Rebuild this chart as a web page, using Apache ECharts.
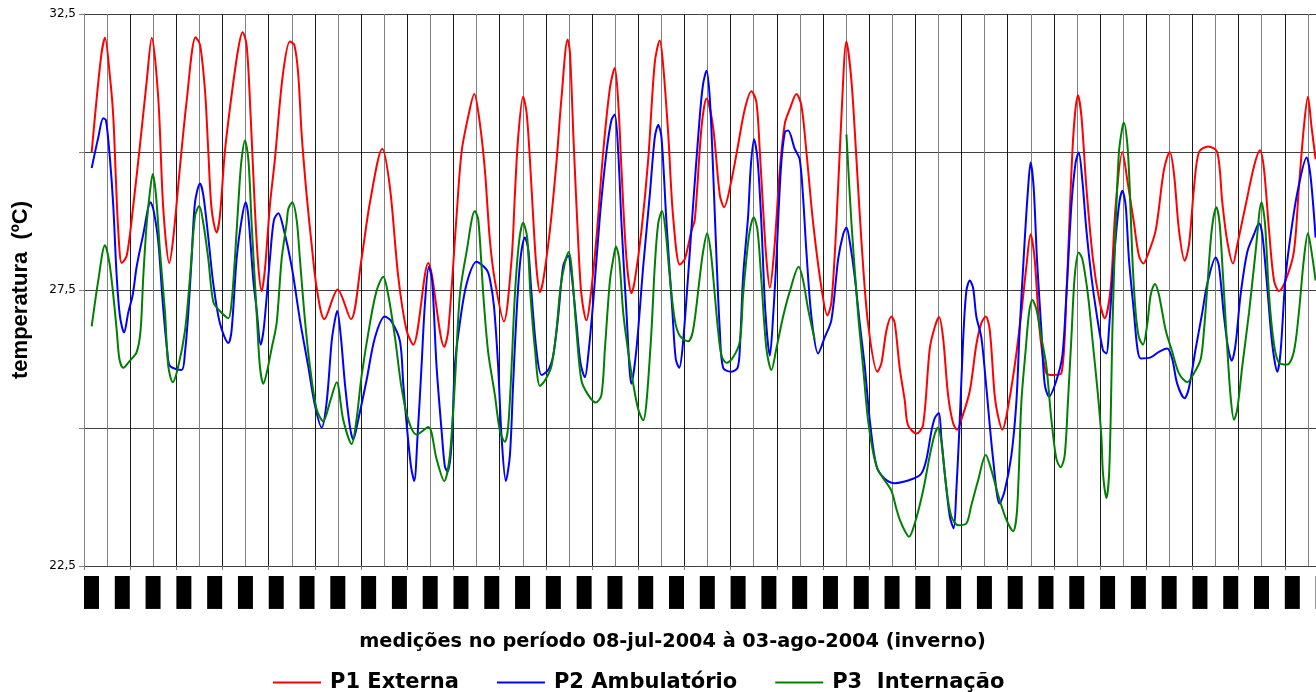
<!DOCTYPE html>
<html><head><meta charset="utf-8">
<script src="https://cdn.jsdelivr.net/npm/echarts@6/dist/echarts.min.js"></script>
<style>html,body{margin:0;padding:0;background:#fff}#c{width:1316px;height:692px}</style>
</head><body><div id="c"></div>
<script>
// time in hours since 08-jul-2004 00:00, temperature in ºC
const p1Hours = [4.0,8.7,10.9,13.5,15.2,16.6,17.8,19.6,22.2,25.6,29.1,32.6,35.2,38.6,41.2,44.3,46.4,49.9,53.3,58.0,60.3,62.9,64.6,66.3,68.9,70.6,73.2,76.7,80.2,82.4,84.5,86.6,88.8,90.6,92.3,94.0,96.6,99.2,103.2,107.0,109.3,111.3,113.1,115.7,118.3,120.9,124.9,131.8,138.7,144.2,148.6,155.0,159.0,163.3,167.6,171.1,178.9,187.2,189.3,193.6,196.2,199.7,202.8,205.7,208.3,210.9,213.5,218.2,222.2,223.9,225.6,228.2,230.0,231.7,233.8,235.2,236.9,238.6,242.1,245.5,248.1,251.3,252.5,254.5,256.8,258.5,261.1,262.9,266.3,269.8,273.3,275.8,277.6,279.3,281.9,284.5,286.2,289.7,293.2,296.6,299.2,301.0,303.6,306.1,309.6,312.2,315.7,317.4,320.9,323.5,326.9,330.4,332.6,336.4,339.9,343.4,346.8,349.4,351.2,352.9,354.6,356.4,358.6,361.6,364.2,366.8,370.2,372.8,375.4,378.9,383.2,386.3,388.4,391.0,393.6,396.2,398.8,401.4,404.0,407.4,412.3,414.4,417.0,419.6,421.3,423.9,426.5,428.2,432.6,436.0,439.5,442.1,444.3,446.4,449.0,451.6,453.7,455.9,460.3,463.7,466.3,468.6,470.7,473.2,475.0,477.2,479.3,483.6,487.1,489.7,491.9,494.0,496.6,500.1,503.6,507.9,510.5,513.9,516.5,518.3,520.9,524.3,527.8,530.4,533.5,536.1,539.6,542.2,545.6,548.2,550.5,552.6,556.9,561.2,564.2,566.4,569.0,572.0,574.2,576.8,579.4,584.2,588.9,591.5,594.1,597.1,599.3,603.6,608.0,611.1,613.2,615.8,618.4,621.0,624.4,628.7,631.3,633.9,636.0,637.9,640.0];
const p1Temps = [30.0,31.68,32.07,31.36,30.65,29.48,28.58,27.99,28.12,29.03,30.13,31.29,32.07,30.97,28.97,27.99,28.45,29.74,30.91,32.08,31.94,31.1,30.0,28.97,28.54,28.84,30.0,31.03,31.88,32.17,31.94,30.65,28.97,27.93,27.48,27.87,29.03,29.87,31.36,32.0,31.94,31.42,30.32,29.22,28.32,27.54,26.97,27.51,26.97,28.06,29.09,30.06,29.35,27.74,26.77,26.51,27.99,26.47,26.77,28.84,30.0,30.65,31.05,30.52,29.68,28.41,27.67,26.93,28.06,29.22,30.26,31.0,30.71,29.87,28.58,27.87,27.46,27.67,28.58,29.81,30.97,32.04,31.81,30.13,28.38,27.41,26.95,27.28,28.45,30.0,31.16,31.52,30.91,29.68,28.06,27.44,27.67,28.58,29.87,31.62,32.02,31.55,30.32,28.84,27.96,28.06,28.58,28.77,30.45,30.97,30.45,29.22,29.0,29.48,30.13,30.78,31.1,30.91,30.0,28.97,28.06,27.54,28.19,29.68,30.52,30.78,31.05,30.84,30.0,28.71,27.54,27.04,27.28,28.71,30.65,32.0,31.29,29.87,28.38,26.9,26.02,26.18,26.77,27.02,26.9,26.08,25.5,25.05,24.9,25.05,26.44,26.83,27.01,26.64,25.6,25.09,24.97,25.15,25.67,26.51,26.9,27.02,26.77,25.6,25.21,24.97,25.21,26.12,27.09,27.93,28.51,28.06,26.77,25.99,25.96,25.99,27.41,30.19,31.03,30.65,29.35,28.06,27.28,26.99,27.54,29.03,30.0,29.48,28.71,28.12,27.98,28.12,28.58,29.68,30.0,29.61,28.58,28.03,28.32,29.35,30.0,30.1,30.0,29.09,28.38,27.98,28.32,29.03,29.74,30.03,29.68,28.58,27.67,27.48,27.67,28.19,29.35,30.45,31.0,30.45,29.87];

const p2Hours = [4.0,7.4,10.0,11.4,13.5,15.2,17.0,18.7,20.8,23.0,25.3,27.4,30.8,34.6,36.0,38.6,40.9,43.3,44.7,50.7,52.5,54.2,55.9,57.7,60.3,62.0,64.6,67.2,70.6,75.0,76.7,79.3,81.9,84.0,85.4,88.0,89.7,91.8,93.5,96.6,98.7,101.0,103.5,107.9,112.2,116.5,120.0,123.5,126.1,128.7,130.4,131.6,133.5,135.6,138.2,139.9,142.5,146.8,151.2,156.4,159.8,164.2,165.9,167.6,169.9,171.6,173.3,175.4,177.1,179.2,180.9,183.2,185.8,187.5,188.9,191.0,192.7,195.3,198.8,204.0,209.2,210.9,213.0,215.2,217.0,219.2,221.3,223.0,224.8,226.8,229.1,230.8,232.6,235.2,237.8,241.2,243.8,246.4,249.0,251.6,253.3,255.9,258.0,260.3,262.0,264.6,268.1,271.5,274.1,275.8,277.6,279.3,281.9,284.5,287.1,290.6,294.0,296.6,298.4,300.1,302.7,305.8,307.5,309.3,311.0,313.9,316.5,320.0,321.7,323.5,325.2,326.9,328.7,330.4,332.1,336.1,339.6,340.8,342.5,345.1,346.5,348.2,350.0,352.0,354.1,356.4,358.1,359.8,362.1,364.2,365.9,369.3,371.9,373.7,375.4,378.0,381.5,384.9,388.4,391.9,394.5,396.2,397.9,400.5,403.1,405.7,408.3,411.8,416.1,421.3,430.8,435.2,437.8,440.4,442.1,444.2,445.5,447.3,449.9,451.9,453.3,455.1,456.8,458.5,460.3,462.0,463.7,466.3,468.9,472.4,475.8,478.4,481.9,484.5,486.2,488.8,490.6,491.9,493.5,495.2,497.5,499.2,501.5,505.3,508.4,510.5,513.1,515.3,516.9,518.8,520.9,523.5,526.1,529.5,531.3,532.6,535.2,537.8,539.6,541.3,543.0,545.6,547.4,549.1,554.3,558.6,562.9,565.5,568.1,571.9,574.2,577.7,581.1,583.7,588.1,589.8,592.4,594.6,596.4,598.4,601.0,604.5,608.0,610.6,612.3,614.9,617.5,620.1,621.8,624.4,627.9,631.0,635.3,637.4,640.0];
const p2Temps = [29.71,30.26,30.61,30.58,29.87,29.03,27.74,27.02,26.73,27.09,27.41,27.93,28.51,29.09,28.97,28.38,27.28,26.38,26.12,26.05,26.38,27.09,28.06,29.09,29.43,29.22,28.45,27.61,26.9,26.54,26.77,28.06,28.77,29.09,28.84,27.67,27.15,26.51,26.83,28.06,28.77,28.89,28.64,27.93,26.96,26.12,25.41,25.01,25.47,26.57,26.96,27.12,26.64,25.8,25.02,24.79,25.15,25.86,26.64,27.02,26.93,26.57,25.8,25.09,24.31,24.04,24.83,26.12,27.22,27.92,27.67,26.12,24.96,24.31,24.21,24.7,26.12,26.9,27.61,28.01,27.87,27.7,27.22,26.12,24.83,24.04,24.5,25.8,27.09,28.06,28.45,28.25,27.41,26.38,25.96,26.05,26.31,27.02,27.93,28.12,27.8,26.9,26.18,25.92,26.31,27.28,28.84,30.0,30.58,30.68,30.0,28.71,27.09,25.8,26.44,27.93,29.22,30.26,30.49,30.26,28.71,27.09,26.25,26.09,26.44,27.74,29.03,30.65,31.23,31.47,30.97,29.68,28.06,26.77,26.09,26.02,26.09,26.44,27.74,28.84,29.74,30.23,29.87,28.71,27.09,26.31,27.02,28.06,29.68,30.36,30.39,30.06,29.87,29.16,28.19,27.02,26.35,26.64,26.96,28.06,28.51,28.63,28.38,27.74,26.9,26.12,25.15,24.31,24.08,24.0,24.08,24.18,24.44,24.95,25.18,25.27,24.83,24.18,23.4,23.18,23.86,25.15,26.57,27.48,27.67,27.54,27.02,26.64,25.73,24.44,23.63,23.86,24.5,25.47,26.77,28.38,29.35,29.81,29.35,28.06,26.77,25.8,25.57,25.86,26.31,27.41,29.03,29.81,29.99,29.48,28.58,27.74,27.09,26.41,26.35,26.77,28.06,29.03,29.3,29.03,28.06,27.09,26.44,26.26,26.28,26.38,26.44,26.25,25.8,25.54,25.73,26.44,27.09,27.61,28.09,27.93,27.02,26.44,26.22,26.51,27.41,28.19,28.51,28.71,28.51,27.54,26.51,26.02,26.38,27.74,28.71,29.35,29.9,29.55,28.45];

const p3Hours = [4.0,7.4,10.9,13.2,15.2,17.0,18.4,20.4,23.9,27.4,29.4,30.8,32.6,34.3,35.7,37.4,39.5,42.1,43.8,46.1,49.0,52.5,55.1,57.7,59.9,62.0,64.6,67.2,70.6,75.0,76.7,78.4,80.7,81.9,83.6,85.4,87.1,89.7,91.4,93.2,94.9,97.5,100.1,102.7,105.3,106.2,108.2,110.5,112.2,114.8,117.4,120.9,124.3,127.8,131.3,134.7,139.1,141.6,144.2,148.6,152.0,155.5,158.1,161.6,165.0,168.5,172.8,178.9,183.2,187.2,190.1,192.7,195.3,198.8,203.1,204.9,207.5,210.0,213.5,216.1,218.7,220.4,222.2,223.9,226.1,228.2,230.3,232.0,234.3,236.9,239.5,242.9,245.5,247.6,249.9,251.9,253.3,255.9,258.5,262.0,266.0,268.9,270.7,273.3,275.3,276.4,278.1,280.2,282.8,285.4,288.0,290.6,292.3,294.9,296.6,298.4,300.4,302.2,304.4,307.0,309.6,313.9,316.5,320.0,321.7,323.8,325.7,327.8,329.5,331.3,333.9,337.3,340.8,342.5,344.2,346.0,348.0,350.0,352.0,354.6,357.2,359.8,363.3,366.8,371.4,373.7,376.3,379.7,388.0,396.2,398.8,402.2,404.8,407.4,410.0,412.6,416.1,419.6,422.2,423.9,426.5,428.7,431.7,436.0,439.5,442.1,443.8,445.5,448.1,450.7,454.2,458.5,461.1,464.6,468.6,471.5,475.0,479.3,482.8,484.9,487.1,489.4,491.1,492.8,494.9,497.5,500.1,502.7,505.3,507.5,509.6,511.3,513.1,514.8,516.9,518.8,521.7,524.3,526.9,528.7,529.5,531.3,532.6,533.5,534.4,535.8,537.8,539.6,540.4,542.2,543.4,544.8,546.5,548.2,550.3,552.6,554.3,556.5,558.6,562.1,565.5,569.0,573.3,576.8,580.3,582.0,583.7,586.0,588.4,590.1,591.9,594.1,595.9,597.6,599.3,601.9,605.4,608.8,611.9,613.7,615.8,618.4,621.0,625.3,628.7,631.3,633.9,636.0,637.9,640.0];
const p3Temps = [26.84,27.67,28.31,27.99,27.41,26.77,26.25,26.09,26.22,26.38,26.77,27.74,28.71,29.29,29.6,29.22,28.19,27.09,26.12,25.83,26.12,26.77,27.74,28.84,29.02,28.71,28.06,27.28,27.12,26.99,27.28,28.06,29.35,29.87,30.21,29.87,28.71,27.09,26.12,25.8,25.99,26.44,26.9,28.06,28.71,28.97,29.09,28.77,28.06,26.96,26.12,25.34,25.12,25.47,25.83,25.15,24.71,25.15,25.93,26.9,27.48,27.74,27.41,26.64,25.73,25.15,24.88,25.02,24.44,24.04,24.5,25.8,27.41,28.19,28.93,28.77,27.41,26.38,25.6,24.95,24.75,25.02,26.12,27.41,28.38,28.72,28.45,27.41,26.44,25.76,25.86,26.12,26.77,27.54,27.99,28.19,27.93,26.77,25.86,25.6,25.46,25.6,26.44,27.67,28.12,28.29,28.06,27.09,26.38,25.8,25.34,25.14,25.47,26.77,27.93,28.71,28.93,28.58,27.74,26.96,26.67,26.57,26.77,27.74,28.19,28.53,28.19,27.41,26.77,26.31,26.18,26.28,26.57,27.41,28.06,28.58,28.82,28.58,27.67,26.44,26.05,26.44,27.02,27.48,27.92,27.67,27.15,26.6,null,30.32,28.71,27.09,26.12,25.15,24.57,24.24,24.05,23.86,23.53,23.34,23.14,23.03,23.27,23.86,24.5,24.89,25.01,24.76,23.92,23.4,23.24,23.27,23.6,24.05,24.51,24.24,23.79,23.34,23.13,23.53,25.47,26.44,27.09,27.32,27.15,26.64,26.12,25.15,24.44,24.29,24.5,25.47,26.64,27.74,28.18,28.06,27.41,26.51,25.6,24.83,24.18,23.73,24.11,25.15,26.77,28.38,30.0,30.45,30.53,30.13,29.35,28.06,27.09,26.64,26.51,26.9,27.41,27.61,27.41,26.77,26.38,25.99,25.83,25.99,26.25,26.77,27.54,28.58,29.0,28.71,27.74,26.44,25.54,25.15,25.34,26.12,27.09,28.19,29.09,28.71,27.41,26.51,26.18,26.15,26.38,27.09,28.06,28.53,28.19,27.67];

const seriesNames = ['P1 Externa', 'P2 Ambulatório', 'P3  Internação'];
const seriesColors = ['#ff0000', '#0000ff', '#008000'];
const yTickValues = [22.5, 27.5, 32.5];
const yTickLabels = ['22,5', '27,5', '32,5'];
const dateTickHours = [0,16,32,48,64,80,96,112,128,144,160,176,192,208,224,240,256,272,288,304,320,336,352,368,384,400,416,432,448,464,480,496,512,528,544,560,576,592,608,624,640];
const dateTickLabels = ['08/07','08/07','09/07','10/07','10/07','11/07','12/07','12/07','13/07','14/07','14/07','15/07','16/07','16/07','17/07','18/07','18/07','19/07','20/07','20/07','21/07','22/07','22/07','23/07','24/07','24/07','25/07','26/07','26/07','27/07','28/07','28/07','29/07','30/07','30/07','31/07','01/08','01/08','02/08','03/08','03/08'];
const xTitle = 'medições no período 08-jul-2004 à 03-ago-2004 (inverno)';
const yTitle = 'temperatura  (ºC)';

function pairs(h, v) { return h.map((x, i) => [x, v[i] === null ? '-' : v[i]]); }
const seriesData = [pairs(p1Hours, p1Temps), pairs(p2Hours, p2Temps), pairs(p3Hours, p3Temps)];

const chart = echarts.init(document.getElementById('c'), null, {renderer: 'canvas'});
chart.setOption({
  animation: false,
  backgroundColor: '#ffffff',
  grid: {left: 84, top: 14, width: 1247, height: 552, containLabel: false, outerBoundsMode: 'none'},
  legend: {
    data: seriesNames.map(n => ({name: n, icon: 'rect'})),
    left: 273, top: 672, padding: 0, itemWidth: 48, itemHeight: 2, itemGap: 38,
    textStyle: {fontFamily: 'DejaVu Sans', fontWeight: 'bold', fontSize: 21, color: '#000', padding: [0, 0, 0, 4]}
  },
  xAxis: [{
    type: 'value', min: 0, max: 648, interval: 24, position: 'bottom',
    name: xTitle, nameLocation: 'middle', nameGap: 66,
    nameTextStyle: {fontFamily: 'DejaVu Sans', fontWeight: 'bold', fontSize: 19.3, color: '#000', padding: [0, 70, 0, 0]},
    axisLine: {show: true, lineStyle: {color: '#404040', width: 1}},
    axisTick: {show: true, length: 4, lineStyle: {color: '#808080'}},
    axisLabel: {show: false},
    splitLine: {show: true, lineStyle: {color: '#1a1a1a', width: 1}},
    minorTick: {show: false, splitNumber: 2},
    minorSplitLine: {show: true, lineStyle: {color: '#808080', width: 1}}
  }, {
    type: 'value', min: 0, max: 648, interval: 16, position: 'bottom',
    axisLine: {show: false}, axisTick: {show: false}, splitLine: {show: false},
    axisLabel: {
      show: true, rotate: 90, verticalAlign: 'top', margin: 10,
      fontFamily: 'DejaVu Sans', fontSize: 9, lineHeight: 11, color: '#000',
      backgroundColor: '#000', padding: [2, 4, 2, 3],
      formatter: function (v) { const i = dateTickHours.indexOf(v); return i >= 0 ? dateTickLabels[i] : ''; }
    }
  }],
  yAxis: {
    type: 'value', min: 22.5, max: 32.5, interval: 2.5,
    name: yTitle, nameLocation: 'middle', nameGap: 52, nameRotate: 90,
    nameTextStyle: {fontFamily: 'Liberation Sans', fontWeight: 'bold', fontSize: 22, color: '#000'},
    axisLine: {show: true, lineStyle: {color: '#808080'}},
    axisTick: {show: true, length: 5, lineStyle: {color: '#808080'}},
    axisLabel: {
      margin: 8, fontFamily: 'DejaVu Sans', fontSize: 12, color: '#000',
      formatter: function (v) { const i = yTickValues.indexOf(v); return i >= 0 ? yTickLabels[i] : ''; }
    },
    splitLine: {show: true, lineStyle: {color: '#404040', width: 1}}
  },
  series: seriesNames.map((n, i) => ({
    name: n, type: 'line', xAxisIndex: 0, data: seriesData[i],
    symbol: 'none', showSymbol: false, smooth: 0.3, connectNulls: false,
    lineStyle: {color: seriesColors[i], width: 2}, itemStyle: {color: seriesColors[i]}
  }))
});
</script></body></html>
